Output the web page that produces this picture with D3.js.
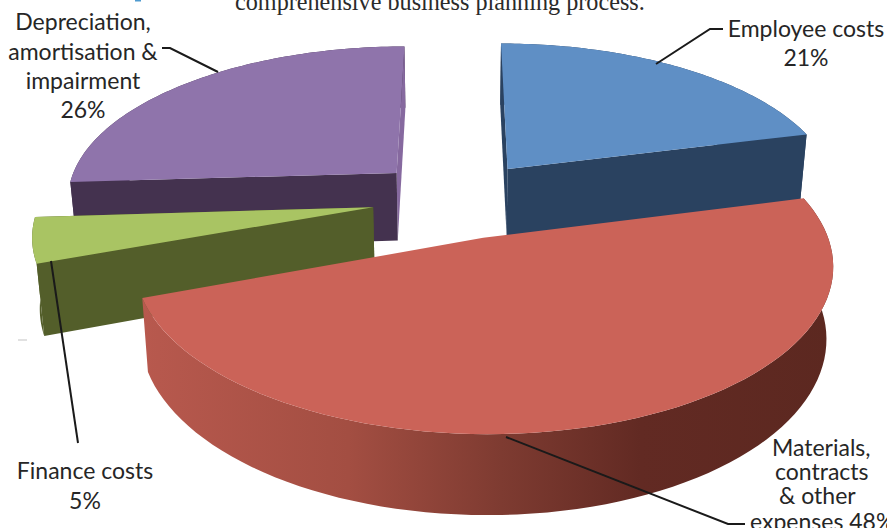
<!DOCTYPE html>
<html>
<head>
<meta charset="utf-8">
<script src="https://d3js.org/d3.v7.min.js"></script>
<style>
  html, body { margin: 0; padding: 0; background: #fff; overflow: hidden; }
  svg { display: block; }
</style>
</head>
<body>
<svg></svg>
<script>
// chart data (slice sizes, the labels show them rounded)
var categories = ["Employee costs", "Materials, contracts & other expenses", "Finance costs", "Depreciation, amortisation & impairment"];
var percents = [21, 48.4, 4.6, 26];

// colours, same order as categories
var topColors = ["#5f8fc5", "#cb6358", "#a9c463", "#8f74ab"];
var startWallColors = ["#2a4260", "none", "#535e2a", "#44324f"];
var endWallColors = ["#2a4260", "none", "#535e2a", "#86699f"];
var outerWallColors = ["#2a4260", "url(#redWall)", "#535e2a", "#44324f"];

// label text lines
var employeeLines = ["Employee costs", "21%"];
var depreciationLines = ["Depreciation,", "amortisation &", "impairment", "26%"];
var financeLines = ["Finance costs", "5%"];
var materialsLines = ["Materials,", "contracts", "& other", "expenses 48%"];

var svgWidth = 887;
var svgHeight = 528;

// 3D pie set up
var radius = 332;
var explode = 85;
var centerX = 457;
var centerY = 199;
var tilt = 0.461;
var persp = 0.00046;
var thickness = 69;
var bottomShrink = 0.982;

var svg = d3.select("svg")
    .attr("width", svgWidth)
    .attr("height", svgHeight);

var defs = svg.append("defs");
var redGrad = defs.append("linearGradient")
    .attr("id", "redWall")
    .attr("gradientUnits", "userSpaceOnUse")
    .attr("x1", 140).attr("x2", 835).attr("y1", 0).attr("y2", 0);
redGrad.append("stop").attr("offset", 0).attr("stop-color", "#b8594e");
redGrad.append("stop").attr("offset", 0.3).attr("stop-color", "#a34e42");
redGrad.append("stop").attr("offset", 0.52).attr("stop-color", "#7e3b31");
redGrad.append("stop").attr("offset", 0.72).attr("stop-color", "#622a23");
redGrad.append("stop").attr("offset", 1).attr("stop-color", "#5c2820");

// plane coords -> screen. v is positive going away from the viewer
function project(u, v, isBottom) {
    var s = 1 / (1 + persp * v);
    var k = isBottom ? bottomShrink : 1;
    return [
        centerX + u * s * k,
        centerY - tilt * v * s * k + (isBottom ? thickness * s : 0)
    ];
}

var pie = d3.pie().sort(null).startAngle(0).endAngle(2 * Math.PI);
var slices = pie(percents);
var line = d3.line().curve(d3.curveLinear);

function rimPoints(d, isBottom) {
    var mid = (d.startAngle + d.endAngle) / 2;
    var ou = explode * Math.sin(mid);
    var ov = explode * Math.cos(mid);
    return d3.range(0, 81).map(function(i) {
        var a = d.startAngle + (d.endAngle - d.startAngle) * i / 80;
        return project(ou + radius * Math.sin(a), ov + radius * Math.cos(a), isBottom);
    });
}

function apexPoint(d, isBottom) {
    var mid = (d.startAngle + d.endAngle) / 2;
    return project(explode * Math.sin(mid), explode * Math.cos(mid), isBottom);
}

// back slices first so the front ones cover them
var drawOrder = [3, 0, 2, 1];

var chartGroup = svg.append("g");

drawOrder.forEach(function(i) {
    var d = slices[i];
    var topRim = rimPoints(d, false);
    var botRim = rimPoints(d, true);
    var apexT = apexPoint(d, false);
    var apexB = apexPoint(d, true);
    var g = chartGroup.append("g").attr("class", "slice");

    // outer wall
    g.append("path")
        .attr("d", line(topRim.concat(botRim.slice().reverse())) + "Z")
        .attr("fill", outerWallColors[i]);

    // cut faces
    g.append("path")
        .attr("d", line([apexT, topRim[80], botRim[80], apexB]) + "Z")
        .attr("fill", endWallColors[i]);
    g.append("path")
        .attr("d", line([apexT, topRim[0], botRim[0], apexB]) + "Z")
        .attr("fill", startWallColors[i]);

    // top face
    g.append("path")
        .attr("d", line([apexT].concat(topRim)) + "Z")
        .attr("fill", topColors[i]);
});

// leader lines
var leaders = [
    [[656, 64], [710, 29], [723, 29]],
    [[218, 72], [170, 48], [162, 48]],
    [[51, 261], [78, 443]],
    [[506, 437], [728, 524], [745, 524]]
];
svg.selectAll(".leader")
    .data(leaders)
    .enter()
    .append("path")
    .attr("class", "leader")
    .attr("d", function(d) { return line(d); })
    .attr("fill", "none")
    .attr("stroke", "#1a1a1a")
    .attr("stroke-width", 2);

// labels
function addLabel(lines, xs, ys, anchor) {
    svg.append("g").selectAll("text")
        .data(lines)
        .enter()
        .append("text")
        .attr("x", function(d, i) { return xs[i]; })
        .attr("y", function(d, i) { return ys[i]; })
        .attr("text-anchor", anchor)
        .attr("font-family", "Lato, 'Open Sans', sans-serif")
        .attr("font-size", 23)
        .attr("fill", "#262626")
        .text(function(d) { return d; });
}

addLabel(employeeLines, [806, 806], [37, 66], "middle");
addLabel(depreciationLines, [83, 83, 83, 83], [30, 60, 89, 118], "middle");
addLabel(financeLines, [85, 85], [479, 509], "middle");
addLabel(materialsLines, [772, 775, 779, 750], [456, 480, 504, 530], "start");

// cropped line of body text from the page above the chart
svg.append("text")
    .attr("x", 235)
    .attr("y", 10)
    .attr("font-family", "'Liberation Serif', serif")
    .attr("font-size", 24.2)
    .attr("fill", "#2b2b2b")
    .text("comprehensive business planning process.");

// bits of the page left in the crop
svg.append("rect").attr("x", 135).attr("y", 0).attr("width", 6).attr("height", 1.5).attr("fill", "#4f9bd0");
svg.append("rect").attr("x", 18).attr("y", 339.5).attr("width", 9).attr("height", 1).attr("fill", "#c4c4c4");
</script>
</body>
</html>
